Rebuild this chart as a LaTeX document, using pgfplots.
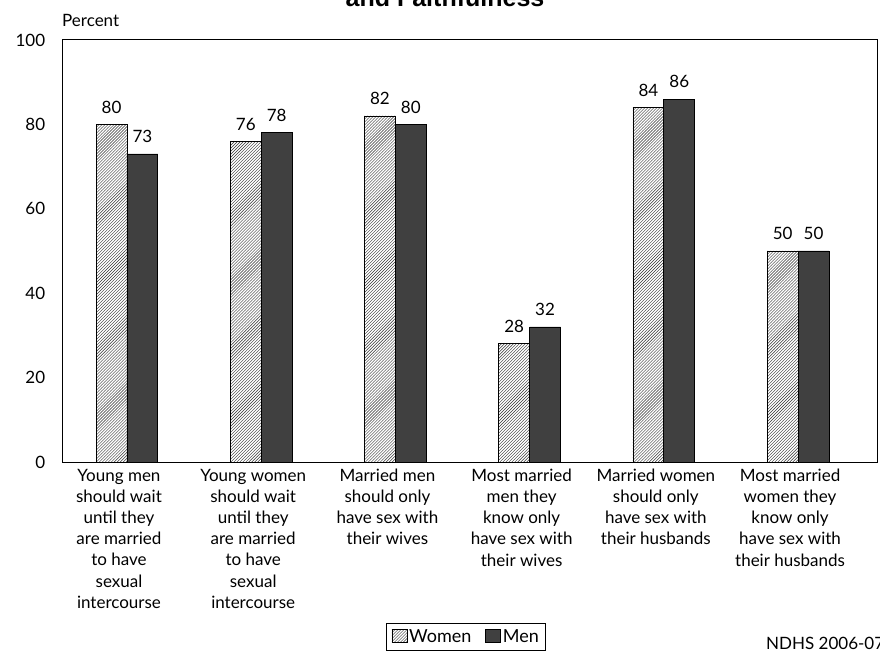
\documentclass[border=0pt]{standalone}
\usepackage{pgfplots}
\pgfplotsset{compat=1.18}
\usepackage{fontspec}
\setmainfont{Lato}
\newfontfamily\titlefont{Liberation Sans}
\usetikzlibrary{patterns}
\definecolor{mendark}{HTML}{404040}
\newcommand{\chfont}{\fontsize{17bp}{21.2bp}\selectfont}
\begin{document}
\begin{tikzpicture}[x=1bp,y=1bp]
\chfont
\begin{axis}[
  at={(62bp,189bp)}, anchor=south west,
  scale only axis, width=815bp, height=422bp,
  ymin=0, ymax=100, ytick={0,20,40,60,80,100},
  xmin=-0.484, xmax=5.588,
  xtick={0,1,2,3,4,5},
  xticklabels={
    {Young men\\should wait\\until they\\are married\\to have\\sexual\\intercourse},
    {Young women\\should wait\\until they\\are married\\to have\\sexual\\intercourse},
    {Married men\\should only\\have sex with\\their wives},
    {Most married\\men they\\know only\\have sex with\\their wives},
    {Married women\\should only\\have sex with\\their husbands},
    {Most married\\women they\\know only\\have sex with\\their husbands}},
  x tick label style={align=center, font=\chfont, anchor=north, yshift=-1bp, xshift=-8bp},
  y tick label style={font=\chfont, xshift=-11bp},
  /pgf/number format/assume math mode=true,
  major tick length=0pt,
  axis line style={line width=1bp},
  ybar=0pt, bar width=0.23,
  nodes near coords,
  nodes near coords style={font=\chfont, anchor=south, yshift=5bp},
  legend style={at={(0.496,-0.3815)}, anchor=north, legend columns=2, draw=black, line width=1bp,
    font=\fontsize{18bp}{21bp}\selectfont, inner xsep=5bp, inner ysep=4bp,
    /tikz/every even column/.append style={column sep=12bp}},
  legend image code/.code={\draw[#1, line width=0.6bp] (0bp,-5.5bp) rectangle (15bp,7.5bp);},
]
\addplot[draw=black, line width=0.8bp, pattern=north east lines, pattern color=black!80] coordinates {(0,80) (1,76) (2,82) (3,28) (4,84) (5,50)};
\addplot[draw=black, line width=0.8bp, fill=mendark] coordinates {(0,73) (1,78) (2,80) (3,32) (4,86) (5,50)};
\legend{Women, Men}
\end{axis}
\node[anchor=base west, inner sep=0pt] at (62bp,624bp) {Percent};
\node[anchor=base, inner sep=0pt, font=\titlefont\bfseries\fontsize{25bp}{28bp}\selectfont] at (445bp,644bp) {and Faithfulness};
\node[anchor=base west, inner sep=0pt] at (766bp,2bp) {NDHS 2006-07};
\pgfresetboundingbox
\path[use as bounding box] (0,0) rectangle (880bp,651bp);
\end{tikzpicture}
\end{document}
